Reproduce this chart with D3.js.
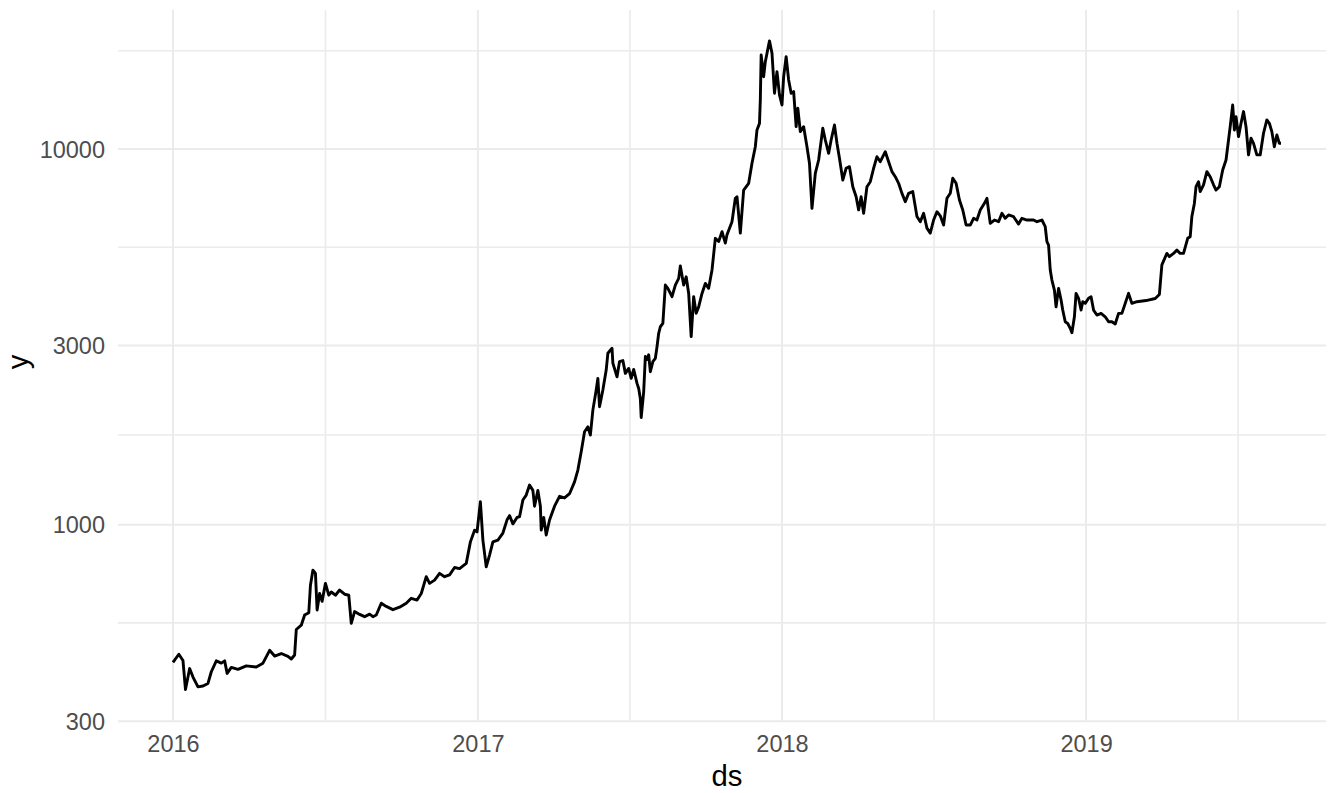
<!DOCTYPE html>
<html>
<head>
<meta charset="utf-8">
<script src="https://cdn.jsdelivr.net/npm/d3@7"></script>
<style>
  body { margin: 0; background: #ffffff; }
  text { font-family: "Liberation Sans", Arial, Helvetica, sans-serif; }
</style>
</head>
<body>
<svg id="chart" width="1329" height="793"></svg>
<script>
// Daily price series (ds, y)
const dates = [
  "2016-01-01","2016-01-08","2016-01-13","2016-01-16","2016-01-21","2016-01-25","2016-01-31","2016-02-06","2016-02-12","2016-02-16",
  "2016-02-22","2016-02-28","2016-03-03","2016-03-06","2016-03-11","2016-03-19","2016-03-29","2016-04-10","2016-04-18","2016-04-26",
  "2016-05-02","2016-05-10","2016-05-18","2016-05-22","2016-05-26","2016-05-28","2016-06-03","2016-06-07","2016-06-12","2016-06-14",
  "2016-06-17","2016-06-20","2016-06-22","2016-06-25","2016-06-28","2016-07-02","2016-07-06","2016-07-09","2016-07-14","2016-07-19",
  "2016-07-25","2016-07-30","2016-08-02","2016-08-06","2016-08-12","2016-08-18","2016-08-24","2016-08-28","2016-09-01","2016-09-07",
  "2016-09-13","2016-09-21","2016-09-29","2016-10-07","2016-10-13","2016-10-20","2016-10-25","2016-10-31","2016-11-04","2016-11-10",
  "2016-11-16","2016-11-22","2016-11-28","2016-12-04","2016-12-10","2016-12-18","2016-12-23","2016-12-28","2016-12-31",
  "2017-01-04","2017-01-07","2017-01-11","2017-01-15","2017-01-19","2017-01-25","2017-01-31","2017-02-05","2017-02-08","2017-02-12",
  "2017-02-17","2017-02-20","2017-02-24","2017-02-28","2017-03-04","2017-03-08","2017-03-10","2017-03-14","2017-03-17","2017-03-18",
  "2017-03-21","2017-03-24","2017-03-28","2017-04-03","2017-04-09","2017-04-15","2017-04-21","2017-04-27","2017-05-01","2017-05-05",
  "2017-05-09","2017-05-13","2017-05-16","2017-05-19","2017-05-23","2017-05-25","2017-05-27","2017-05-31","2017-06-04","2017-06-06",
  "2017-06-11","2017-06-12","2017-06-17","2017-06-20","2017-06-24","2017-06-27","2017-07-01","2017-07-04","2017-07-07","2017-07-11",
  "2017-07-13","2017-07-15","2017-07-16","2017-07-19","2017-07-21","2017-07-23","2017-07-25","2017-07-27","2017-07-30","2017-08-02",
  "2017-08-04","2017-08-06","2017-08-08","2017-08-11","2017-08-14","2017-08-17","2017-08-22","2017-08-26","2017-08-30","2017-09-01",
  "2017-09-05","2017-09-08","2017-09-11","2017-09-14","2017-09-17","2017-09-20","2017-09-23","2017-09-27","2017-10-01","2017-10-05",
  "2017-10-09","2017-10-13","2017-10-17","2017-10-21","2017-10-25","2017-10-27","2017-11-02","2017-11-06","2017-11-08","2017-11-12",
  "2017-11-16","2017-11-22","2017-11-26","2017-11-30","2017-12-02","2017-12-05","2017-12-06","2017-12-07","2017-12-10","2017-12-12",
  "2017-12-17","2017-12-20","2017-12-23","2017-12-26","2017-12-29",
  "2018-01-01","2018-01-03","2018-01-06","2018-01-09","2018-01-12","2018-01-15","2018-01-18","2018-01-20","2018-01-23","2018-01-27",
  "2018-01-31","2018-02-03","2018-02-06","2018-02-10","2018-02-14","2018-02-19","2018-02-22","2018-02-26","2018-03-01","2018-03-05",
  "2018-03-08","2018-03-11","2018-03-15","2018-03-19","2018-03-23","2018-03-27","2018-03-31","2018-04-03","2018-04-06","2018-04-09",
  "2018-04-13","2018-04-17","2018-04-21","2018-04-25","2018-04-29","2018-05-05","2018-05-09","2018-05-13","2018-05-17","2018-05-21",
  "2018-05-25","2018-05-29","2018-06-02","2018-06-07","2018-06-12","2018-06-16","2018-06-20","2018-06-24","2018-06-28","2018-07-02",
  "2018-07-06","2018-07-10","2018-07-14","2018-07-18","2018-07-22","2018-07-25","2018-07-29","2018-08-02","2018-08-06","2018-08-10",
  "2018-08-15","2018-08-19","2018-08-23","2018-08-27","2018-09-01","2018-09-04","2018-09-08","2018-09-13","2018-09-18","2018-09-22",
  "2018-09-26","2018-09-30","2018-10-06","2018-10-12","2018-10-16","2018-10-22","2018-10-30","2018-11-03","2018-11-09","2018-11-13",
  "2018-11-15","2018-11-17","2018-11-19","2018-11-21","2018-11-24","2018-11-26","2018-11-29","2018-12-02","2018-12-04","2018-12-07",
  "2018-12-10","2018-12-13","2018-12-15","2018-12-18","2018-12-20","2018-12-23","2018-12-26","2018-12-28","2018-12-31",
  "2019-01-04","2019-01-07","2019-01-10","2019-01-14","2019-01-19","2019-01-24","2019-01-28","2019-02-01","2019-02-05","2019-02-09",
  "2019-02-13","2019-02-17","2019-02-21","2019-02-25","2019-03-03","2019-03-14","2019-03-25","2019-03-30","2019-04-02","2019-04-08",
  "2019-04-11","2019-04-16","2019-04-20","2019-04-24","2019-04-28","2019-05-03","2019-05-06","2019-05-08","2019-05-11","2019-05-13",
  "2019-05-16","2019-05-18","2019-05-22","2019-05-26","2019-05-30","2019-06-03","2019-06-06","2019-06-10","2019-06-14","2019-06-18",
  "2019-06-21","2019-06-23","2019-06-26","2019-06-28","2019-06-30","2019-07-03","2019-07-06","2019-07-09","2019-07-12","2019-07-15",
  "2019-07-18","2019-07-21","2019-07-25","2019-07-29","2019-08-02","2019-08-06","2019-08-09","2019-08-12","2019-08-15","2019-08-18",
  "2019-08-21","2019-08-23"
];

const prices = [
  430,452,435,364,414,393,370,372,378,406,
  434,428,434,402,417,412,421,418,428,463,
  447,454,446,439,450,526,540,575,583,690,
  757,742,593,656,625,698,649,662,649,670,
  653,649,546,587,577,569,578,569,575,618,
  606,594,603,618,637,630,656,727,698,712,
  742,727,735,769,764,789,900,967,957,
  1151,910,772,830,900,910,950,1030,1057,1005,
  1045,1050,1163,1199,1275,1234,1120,1234,1120,967,
  1045,939,1029,1120,1190,1178,1209,1300,1398,1563,
  1768,1821,1732,2018,2283,2452,2060,2283,2580,2859,
  2948,2692,2476,2718,2735,2528,2606,2452,2590,2377,
  2305,2163,1929,2258,2803,2752,2833,2554,2718,2773,
  2977,3232,3364,3432,4344,4257,4046,4344,4524,4882,
  4344,4568,4126,3166,4046,3652,3800,4126,4387,4257,
  4763,5784,5672,6024,5618,5910,6404,7391,7463,5970,
  7777,8103,9161,10143,11236,11700,13500,17800,15576,17078,
  19400,17980,14072,16064,13926,
  13095,15576,17607,15261,14072,14216,11466,12837,11123,11466,
  10143,9161,6952,8615,9347,11354,10567,9740,10567,11585,
  10355,9445,8269,8887,8975,7937,7463,6885,7463,6744,
  7937,8184,8887,9539,9250,9836,9250,8703,8439,8103,
  7617,7242,7617,7701,6610,6404,6744,6156,5970,6472,
  6808,6640,6274,7391,7622,8356,8103,7314,6881,6274,
  6274,6538,6471,6881,7168,7391,6340,6471,6404,6743,
  6538,6673,6603,6312,6538,6471,6471,6404,6471,6210,
  5668,5551,4763,4478,4212,3802,4256,3963,3726,3468,
  3432,3332,3243,3576,4128,4005,3726,3922,3883,
  4005,4044,3726,3614,3652,3576,3468,3468,3420,3652,
  3652,3883,4128,3883,3922,3950,4000,4100,4914,5273,
  5168,5273,5380,5273,5273,5784,5842,6610,7164,7937,
  8184,7701,8031,8703,8439,8031,7777,7937,8790,9347,
  10567,11466,13095,11236,12189,10785,11708,12578,11466,9643,
  10682,10355,9643,9643,11012,11948,11708,11123,10143,10894,
  10355,10355
];

// Axis breaks and labels
const yBreaks = [300, 1000, 3000, 10000];
const yLabels = ["300", "1000", "3000", "10000"];
const xBreakYears = [2016, 2017, 2018, 2019];
const xLabels = ["2016", "2017", "2018", "2019"];

// Plotted ranges of the two axes
const xLimits = ["2015-10-27", "2019-10-16"];
const yLimits = [298.4, 23440];

const W = 1329, H = 793;
const panel = { left: 118, right: 1326, top: 10, bottom: 722 };

const parse = d3.utcParse("%Y-%m-%d");
const series = dates.map((d, i) => ({ ds: parse(d), y: prices[i] }));

const x = d3.scaleUtc()
  .domain(xLimits.map(parse))
  .range([panel.left, panel.right]);

const y = d3.scaleLog()
  .domain(yLimits)
  .range([panel.bottom, panel.top]);

const svg = d3.select("#chart");
svg.append("rect").attr("width", W).attr("height", H).attr("fill", "#ffffff");

// Minor breaks: midpoints between major breaks in transformed space
const lb = yBreaks.map(Math.log10);
const step = lb[1] - lb[0];
const lbExt = [lb[0] - step, ...lb, lb[lb.length - 1] + step];
const yMinor = [];
for (let i = 0; i < lbExt.length - 1; i++) {
  const v = Math.pow(10, (lbExt[i] + lbExt[i + 1]) / 2);
  if (v >= yLimits[0] && v <= yLimits[1]) yMinor.push(v);
}

const yearStarts = d3.range(xBreakYears[0] - 1, xBreakYears[xBreakYears.length - 1] + 2)
  .map(yr => Date.UTC(yr, 0, 1));
const xMinor = [];
for (let i = 0; i < yearStarts.length - 1; i++) {
  const t = new Date((yearStarts[i] + yearStarts[i + 1]) / 2);
  if (t >= x.domain()[0] && t <= x.domain()[1]) xMinor.push(t);
}
const xMajor = xBreakYears.map(yr => new Date(Date.UTC(yr, 0, 1)));

const grid = svg.append("g").attr("class", "grid");
const gridColor = "#ebebeb";

grid.selectAll("line.y-minor").data(yMinor).enter().append("line")
  .attr("x1", panel.left).attr("x2", panel.right)
  .attr("y1", d => y(d)).attr("y2", d => y(d))
  .attr("stroke", gridColor).attr("stroke-width", 1.6);

grid.selectAll("line.x-minor").data(xMinor).enter().append("line")
  .attr("y1", panel.top).attr("y2", panel.bottom)
  .attr("x1", d => x(d)).attr("x2", d => x(d))
  .attr("stroke", gridColor).attr("stroke-width", 1.6);

grid.selectAll("line.y-major").data(yBreaks).enter().append("line")
  .attr("x1", panel.left).attr("x2", panel.right)
  .attr("y1", d => y(d)).attr("y2", d => y(d))
  .attr("stroke", gridColor).attr("stroke-width", 2);

grid.selectAll("line.x-major").data(xMajor).enter().append("line")
  .attr("y1", panel.top).attr("y2", panel.bottom)
  .attr("x1", d => x(d)).attr("x2", d => x(d))
  .attr("stroke", gridColor).attr("stroke-width", 2);

// Price line
const line = d3.line().x(d => x(d.ds)).y(d => y(d.y));
svg.append("path")
  .datum(series)
  .attr("d", line)
  .attr("fill", "none")
  .attr("stroke", "#000000")
  .attr("stroke-width", 2.9)
  .attr("stroke-linejoin", "round")
  .attr("stroke-linecap", "butt");

// Axis labels (no axis lines or ticks)
const axisY = d3.axisLeft(y).tickValues(yBreaks).tickFormat((d, i) => yLabels[i]).tickSize(0).tickPadding(13);
const gy = svg.append("g").attr("transform", `translate(${panel.left},0)`).call(axisY);
gy.select(".domain").remove();
gy.selectAll("text")
  .attr("fill", "#4d4d4d")
  .style("font-size", "23.5px")
  .attr("dy", "0.35em");

const axisX = d3.axisBottom(x).tickValues(xMajor).tickFormat((d, i) => xLabels[i]).tickSize(0).tickPadding(13);
const gx = svg.append("g").attr("transform", `translate(0,${panel.bottom})`).call(axisX);
gx.select(".domain").remove();
gx.selectAll("text")
  .attr("fill", "#4d4d4d")
  .style("font-size", "23.5px")
  .attr("dy", "0.71em");

// Axis titles
svg.append("text")
  .attr("x", (panel.left + panel.right) / 2 + 5)
  .attr("y", 786)
  .attr("text-anchor", "middle")
  .attr("fill", "#000000")
  .style("font-size", "29.3px")
  .text("ds");

svg.append("text")
  .attr("transform", `translate(28,${(panel.top + panel.bottom) / 2 - 4}) rotate(-90)`)
  .attr("text-anchor", "middle")
  .attr("fill", "#000000")
  .style("font-size", "29.3px")
  .text("y");
</script>
</body>
</html>
